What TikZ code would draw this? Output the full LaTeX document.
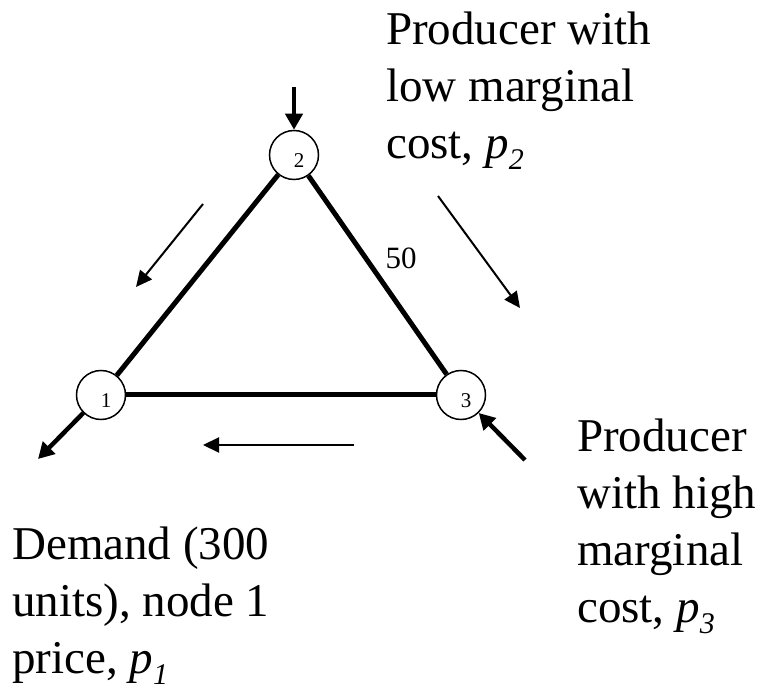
\documentclass[tikz,border=0pt]{standalone}
\usepackage{fontspec}
\setmainfont{Liberation Serif}
\usetikzlibrary{arrows.meta}

\tikzset{
    nodo/.style={circle, draw, line width=1.5pt, minimum size=49pt, inner sep=0pt},
    arista/.style={line width=5pt},
    flujo/.style={line width=2pt, -{Triangle[length=16pt, width=15pt]}},
    inyeccion/.style={line width=4.5pt, -{Triangle[length=16pt, width=17pt]}},
    texto/.style={align=left, anchor=north west, inner sep=0pt,
        font=\fontsize{47}{57}\selectfont}
}

\newcommand{\precio}[1]{\textit{p}\raisebox{-0.22em}{\fontsize{30}{30}\selectfont\textit{#1}}}

\begin{document}
\begin{tikzpicture}[x=1pt, y=-1pt]

    \useasboundingbox (0,0) rectangle (763,692);

    % --- Nodos de la red (índice, x, y) ---
    \foreach \i/\px/\py in {
        1/101/395,
        2/294/155,
        3/461/395}{
        \node[nodo, label={[font=\fontsize{21}{21}\selectfont, xshift=5pt, yshift=-6pt]center:\i}] (n\i) at (\px, \py) {};
    }

    % --- Líneas de transmisión ---
    \draw[arista] (n1) -- (n2);
    \draw[arista] (n2) -- (n3);
    \draw[arista] (n3) -- (n1);

    % Capacidad de la línea 2-3
    \node[font=\fontsize{31}{31}\selectfont] (cap23) at (401, 258) {50};

    % --- Inyecciones y retiros ---
    \coordinate (g2) at (294, 87);
    \coordinate (g3) at (525, 460);
    \coordinate (d1) at (38, 459);
    \draw[inyeccion] (g2) -- (n2);
    \draw[inyeccion] (g3) -- (n3);
    \draw[inyeccion] (n1) -- (d1);

    % --- Sentido de los flujos ---
    \coordinate (f21a) at (203, 204);
    \coordinate (f21b) at (136, 287);
    \coordinate (f23a) at (438, 196);
    \coordinate (f23b) at (520, 308);
    \coordinate (f31a) at (354, 445);
    \coordinate (f31b) at (203, 445);
    \draw[flujo] (f21a) -- (f21b);
    \draw[flujo] (f23a) -- (f23b);
    \draw[flujo] (f31a) -- (f31b);

    % --- Textos ---
    \node[texto] (prod2) at (386, 12) {Producer with\\low marginal\\cost, \precio{2}};
    \node[texto] (prod3) at (577, 419) {Producer\\with high\\marginal\\cost, \precio{3}};
    \node[texto] (dem1) at (12, 527) {Demand (300\\units), node 1\\price, \precio{1}};

\end{tikzpicture}
\end{document}
